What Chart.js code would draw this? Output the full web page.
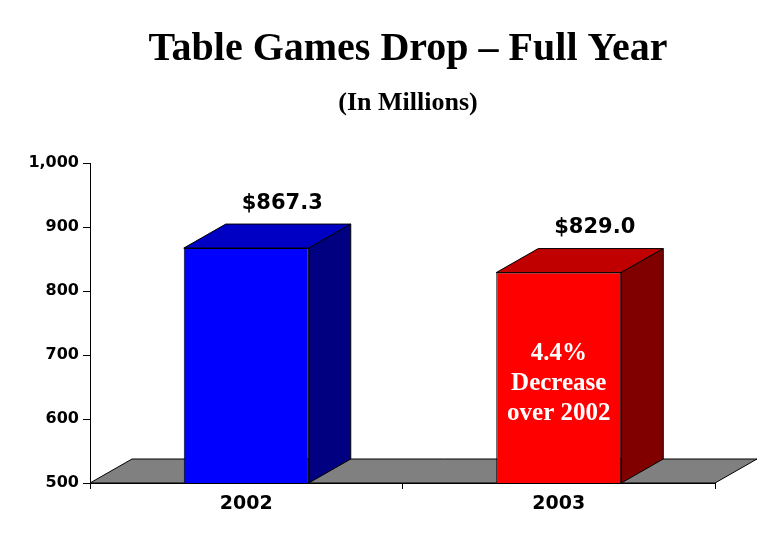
<!DOCTYPE html>
<html>
<head>
<meta charset="utf-8">
<title>Table Games Drop – Full Year</title>
<script src="https://cdn.jsdelivr.net/npm/chart.js@4.4.1/dist/chart.umd.min.js"></script>
<style>
  html, body { margin: 0; padding: 0; background: #fff; }
  canvas { display: block; }
</style>
</head>
<body>
<canvas id="dropChart" width="775" height="560"></canvas>
<script>
// values
const years = ['2002', '2003'];
const dropMillions = [867.3, 829.0];
const valueLabels = ['$867.3', '$829.0'];
const noteLines = ['4.4%', 'Decrease', 'over 2002'];
const yMin = 500;
const yMax = 1000;
const yStep = 100;

// colours: front / top / side
const frontColors = ['#0000FF', '#FF0000'];
const topColors = ['#0000C4', '#C00000'];
const sideColors = ['#000080', '#800000'];

const DEPTH_X = 42;
const DEPTH_Y = -24;

function poly(ctx, pts, fill) {
  ctx.beginPath();
  ctx.moveTo(pts[0][0], pts[0][1]);
  for (let i = 1; i < pts.length; i++) ctx.lineTo(pts[i][0], pts[i][1]);
  ctx.closePath();
  ctx.fillStyle = fill;
  ctx.fill();
  ctx.lineWidth = 1;
  ctx.strokeStyle = '#000';
  ctx.stroke();
}

const bar3d = {
  id: 'bar3d',
  beforeDatasetsDraw(chart) {
    const { ctx, chartArea } = chart;
    const b = chart.scales.y.getPixelForValue(yMin);
    ctx.save();
    poly(ctx, [
      [chartArea.left, b],
      [chartArea.right, b],
      [chartArea.right + DEPTH_X, b + DEPTH_Y],
      [chartArea.left + DEPTH_X, b + DEPTH_Y]
    ], '#808080');
    ctx.restore();
  },
  afterDatasetsDraw(chart) {
    const { ctx } = chart;
    const meta = chart.getDatasetMeta(0);
    const base = chart.scales.y.getPixelForValue(yMin);
    ctx.save();
    meta.data.forEach((bar, i) => {
      const { x, y, width } = bar.getProps(['x', 'y', 'width'], true);
      const l = x - width / 2;
      const r = x + width / 2;
      poly(ctx, [[l, y], [r, y], [r + DEPTH_X, y + DEPTH_Y], [l + DEPTH_X, y + DEPTH_Y]], topColors[i]);
      poly(ctx, [[r, y], [r, base], [r + DEPTH_X, base + DEPTH_Y], [r + DEPTH_X, y + DEPTH_Y]], sideColors[i]);

      ctx.fillStyle = '#000';
      ctx.font = 'bold 21px "DejaVu Sans"';
      ctx.textAlign = 'center';
      ctx.textBaseline = 'middle';
      ctx.fillText(valueLabels[i], x + 36, y - 45);

      if (i === 1) {
        ctx.fillStyle = '#fff';
        ctx.font = 'bold 25px "Liberation Serif"';
        const mid = (y + base) / 2 + 6;
        noteLines.forEach((line, k) => {
          ctx.fillText(line, x, mid + (k - 1) * 30);
        });
      }
    });
    ctx.restore();
  }
};

new Chart(document.getElementById('dropChart'), {
  type: 'bar',
  data: {
    labels: years,
    datasets: [{
      data: dropMillions,
      backgroundColor: frontColors,
      borderColor: '#000',
      borderWidth: 1,
      borderSkipped: false,
      barPercentage: 0.4,
      categoryPercentage: 1.0
    }]
  },
  options: {
    responsive: false,
    animation: false,
    // title is centred a little right of the canvas middle on the slide
    layout: { padding: { left: 24, right: -17, top: 0, bottom: 0 } },
    plugins: {
      legend: { display: false },
      tooltip: { enabled: false },
      title: {
        display: true,
        text: 'Table Games Drop – Full Year',
        color: '#000',
        font: { family: '"Liberation Serif"', size: 40, weight: 'bold', lineHeight: 1.2 },
        padding: { top: 26, bottom: 6 }
      },
      subtitle: {
        display: true,
        text: '(In Millions)',
        color: '#000',
        font: { family: '"Liberation Serif"', size: 26, weight: 'bold', lineHeight: 1.2 },
        padding: { top: 8, bottom: 44 }
      }
    },
    scales: {
      y: {
        min: yMin,
        max: yMax,
        afterFit(scale) { scale.width = 66; },
        border: { color: '#000', width: 1 },
        grid: { drawOnChartArea: false, color: '#000', tickLength: 7 },
        ticks: {
          stepSize: yStep,
          color: '#000',
          padding: 4,
          font: { family: '"DejaVu Sans"', size: 16, weight: 'bold' },
          callback: v => v.toLocaleString('en-US')
        }
      },
      // empty right-hand spacer so the floor has room past the axis end
      yRight: {
        position: 'right',
        min: yMin,
        max: yMax,
        afterFit(scale) { scale.width = 77; },
        border: { display: false },
        grid: { display: false },
        ticks: { display: false }
      },
      x: {
        afterFit(scale) { scale.height = 77; },
        border: { color: '#000', width: 1 },
        grid: { offset: true, drawOnChartArea: false, color: '#000', tickLength: 6 },
        ticks: {
          color: '#000',
          padding: 4,
          font: { family: '"DejaVu Sans"', size: 19, weight: 'bold' }
        }
      }
    }
  },
  plugins: [bar3d]
});
</script>
</body>
</html>
